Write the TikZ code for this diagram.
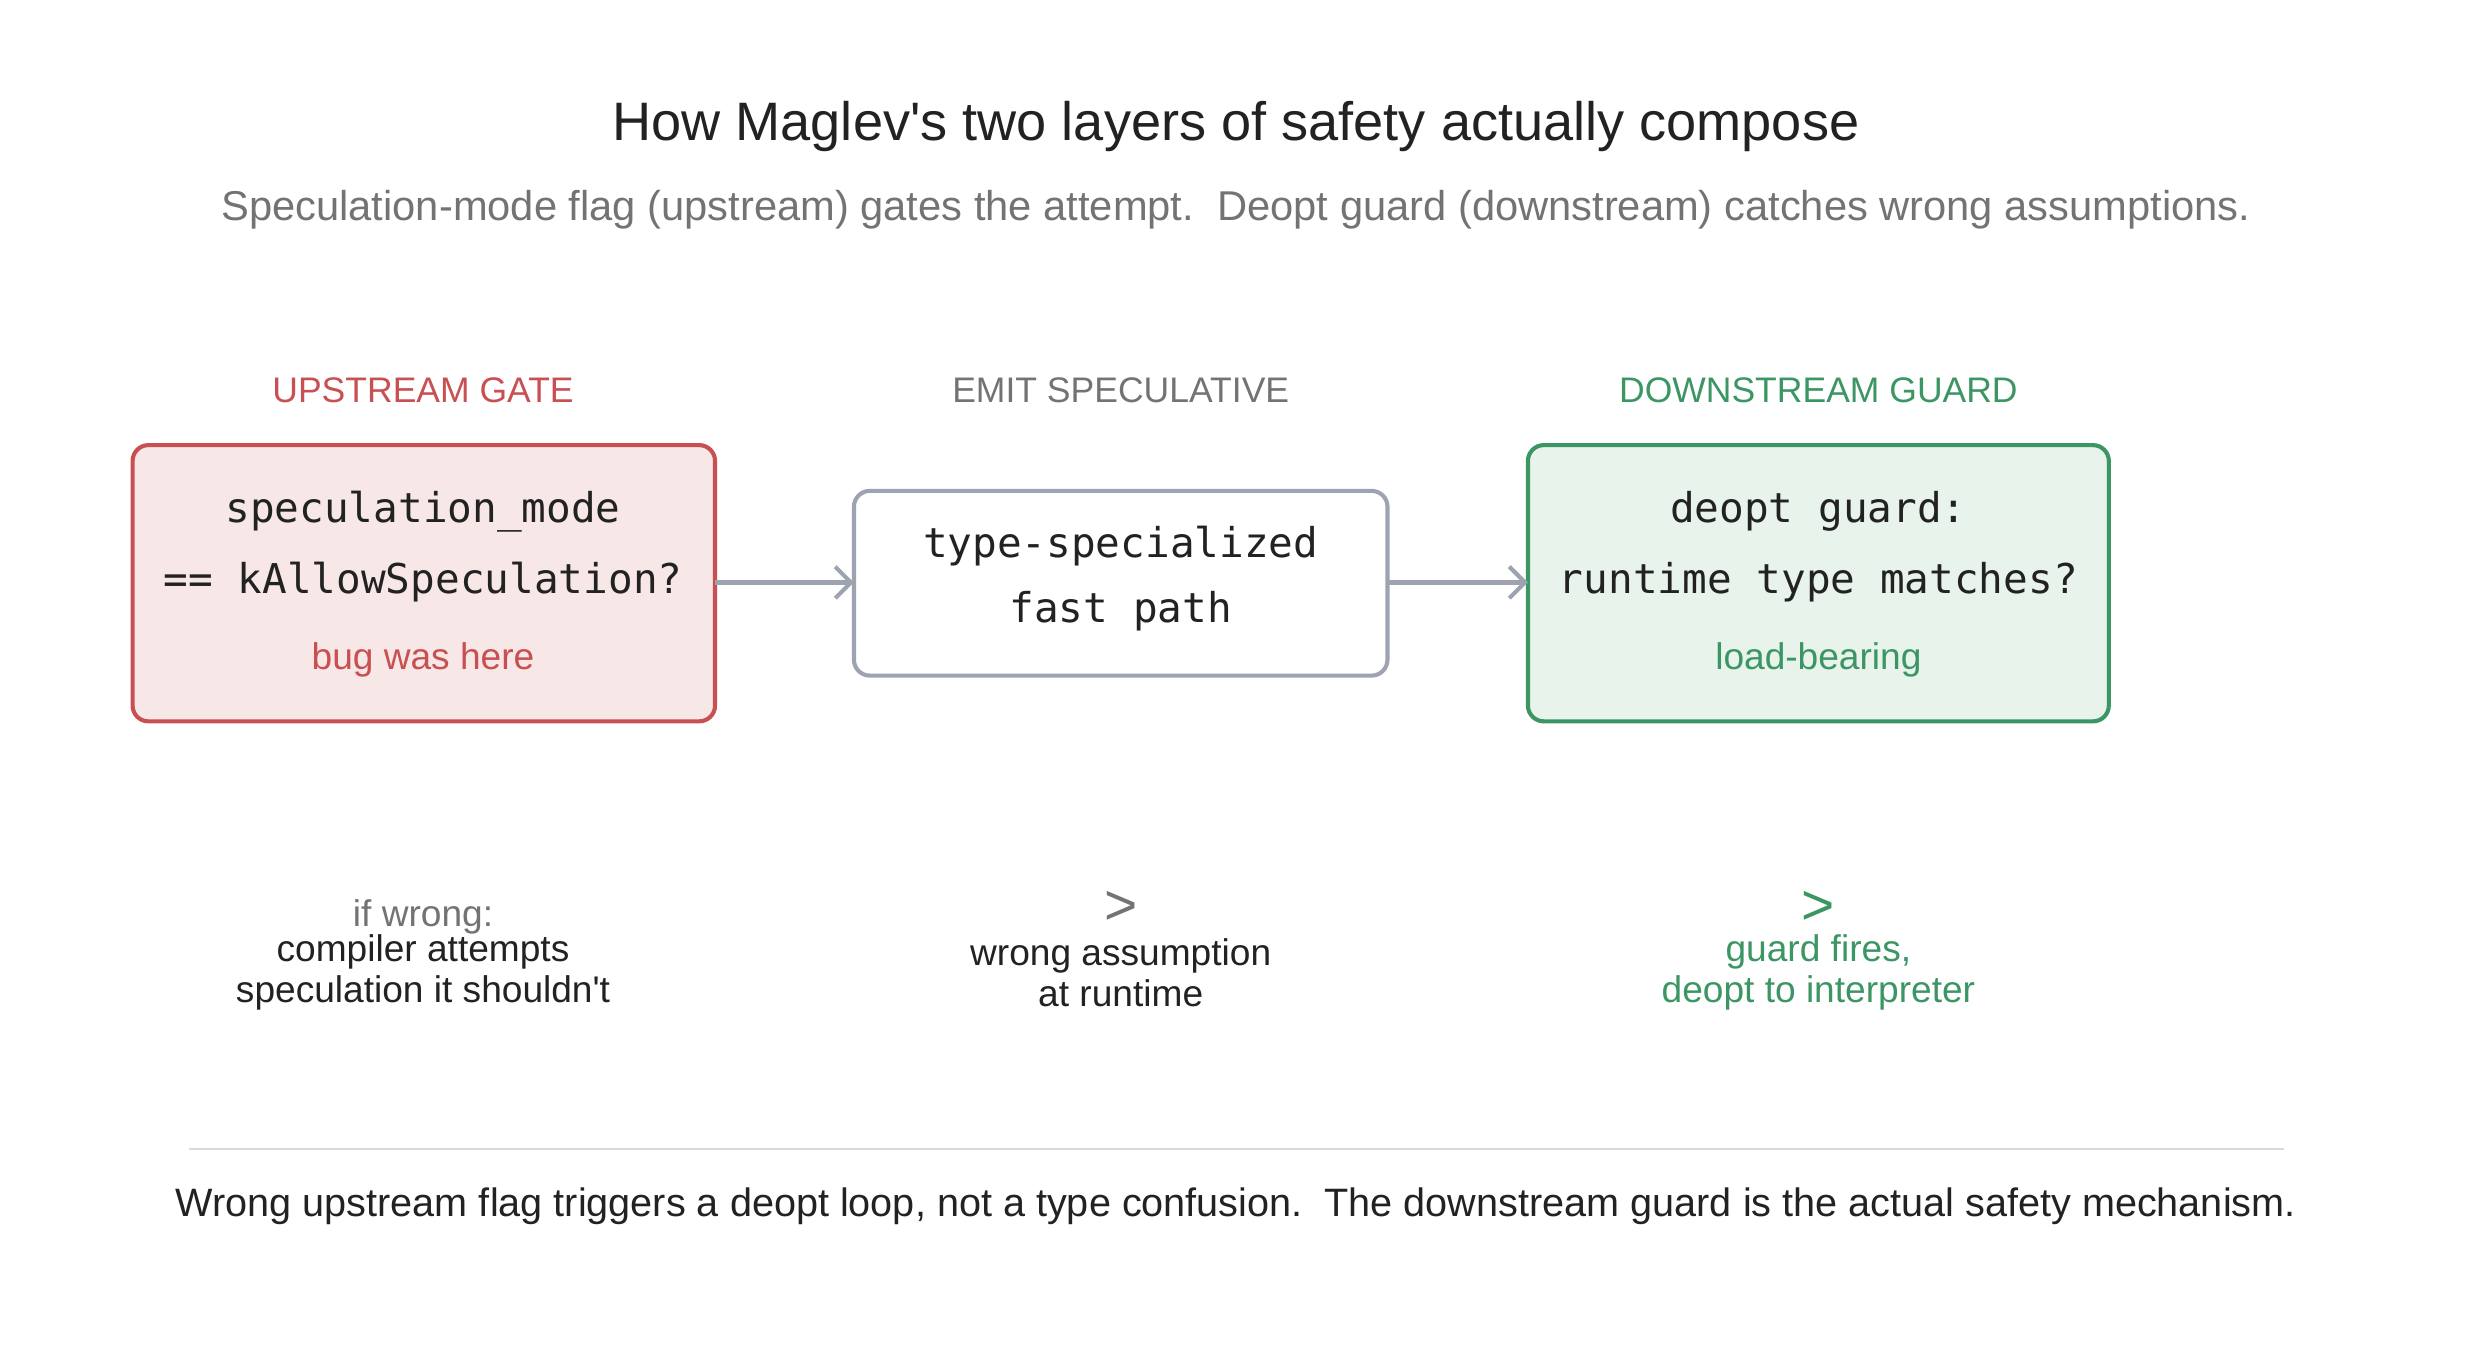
\documentclass[tikz,border=0pt]{standalone}
\usepackage{fontspec}
\setmainfont{Liberation Sans}[Ligatures=TeXOff]
\setmonofont{DejaVu Sans Mono}
\usetikzlibrary{arrows.meta}
\definecolor{red1}{RGB}{200,80,82}
\definecolor{redf}{RGB}{247,231,231}
\definecolor{grn}{RGB}{60,150,100}
\definecolor{grnf}{RGB}{232,243,235}
\definecolor{gry}{RGB}{115,115,115}
\definecolor{bgry}{RGB}{158,163,178}
\definecolor{dark}{RGB}{34,34,34}
\begin{document}
\begin{tikzpicture}[x=1pt,y=-1pt,
  box/.style={draw,line width=2.6pt,rounded corners=10pt},
  mono/.style={font=\fontsize{26}{34}\selectfont\ttfamily,text=dark,align=center},
  hdr/.style={font=\fontsize{22.5}{26}\selectfont},
  sm/.style={font=\fontsize{23.5}{26}\selectfont,align=center},
  arr/.style={draw=bgry,line width=2.6pt,-{Straight Barb[length=10pt,width=20pt,line width=2.6pt]}}]
\useasboundingbox (0,0) rectangle (1568,856);
\node[font=\fontsize{34.3}{40}\selectfont,text=dark] (title) at (783,80) {How Maglev's two layers of safety actually compose};
\node[font=\fontsize{26.4}{30}\selectfont,text=gry] (sub) at (783,133) {Speculation-mode flag (upstream) gates the attempt.\ \ Deopt guard (downstream) catches wrong assumptions.};
\node[hdr,text=red1] (h1) at (268,247) {UPSTREAM GATE};
\node[hdr,text=gry] (h2) at (710,247) {EMIT SPECULATIVE};
\node[hdr,text=grn] (h3) at (1152,247) {DOWNSTREAM GUARD};
\path[box,draw=red1,fill=redf] (84,282) rectangle (453,457);
\path[box,draw=bgry,fill=white] (541,311) rectangle (879,428);
\path[box,draw=grn,fill=grnf] (968,282) rectangle (1336,457);
\coordinate (b1e) at (453,369); \coordinate (b2w) at (541,369);
\coordinate (b2e) at (879,369); \coordinate (b3w) at (968,369);
\node[mono] (t1a) at (268,324) {speculation\_mode};
\node[mono] (t1b) at (268,369) {== kAllowSpeculation?};
\node[sm,text=red1] (t1c) at (268,418) {bug was here};
\node[mono] (t2a) at (710,346) {type-specialized};
\node[mono] (t2b) at (710,387) {fast path};
\node[mono] (t3a) at (1152,324) {deopt guard:};
\node[mono] (t3b) at (1152,369) {runtime type matches?};
\node[sm,text=grn] (t3c) at (1152,418) {load-bearing};
\draw[arr] (b1e) -- (b2w);
\draw[arr] (b2e) -- (b3w);
\node[sm,text=gry] (w1) at (268,581) {if wrong:};
\node[sm,text=dark] (w2) at (268,616) {compiler attempts\\speculation it shouldn't};
\node[text=gry,font=\fontsize{36}{36}\selectfont] (g2) at (710,575) {>};
\node[sm,text=dark] (w3) at (710,616) {wrong assumption\\at runtime};
\node[text=grn,font=\fontsize{36}{36}\selectfont] (g3) at (1152,575) {>};
\node[sm,text=grn] (w4) at (1152,616) {guard fires,\\deopt to interpreter};
\coordinate (l1) at (120,728); \coordinate (l2) at (1447,728);
\draw[line width=1.5pt,draw=black!15] (l1) -- (l2);
\node[font=\fontsize{25.1}{28}\selectfont,text=dark] (foot) at (783,764) {Wrong upstream flag triggers a deopt loop, not a type confusion.\ \ The downstream guard is the actual safety mechanism.};
\end{tikzpicture}
\end{document}
